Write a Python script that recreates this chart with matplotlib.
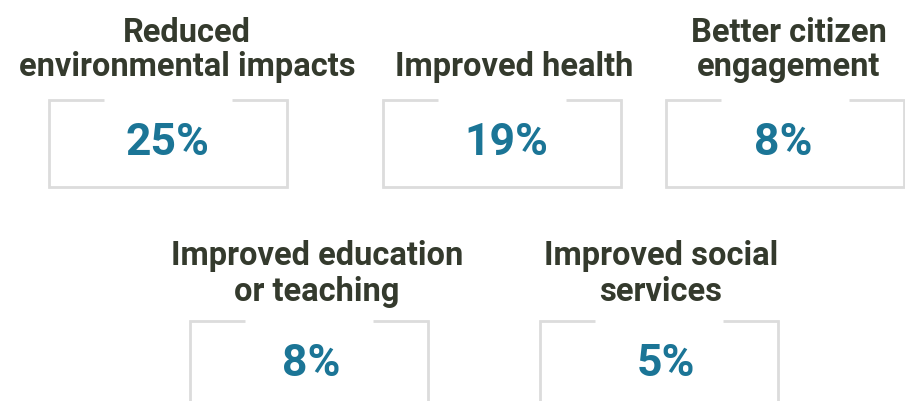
import matplotlib
matplotlib.use("Agg")
import matplotlib.pyplot as plt

categories = ["Reduced\nenvironmental impacts", "Improved health",
              "Better citizen\nengagement", "Improved education\nor teaching",
              "Improved social\nservices"]
values = [25, 19, 8, 8, 5]
value_labels = [f"{v}%" for v in values]

# layout (pixel coordinates)
box_left = [49, 383, 666, 190, 540]
box_top = [100, 100, 100, 321, 321]
box_w = 238
box_h = 87
title_cx = [187, 514, 789, 317, 661]
value_cx = [167, 506, 783, 311, 666]
title_last_base = [76, 76, 76, 301, 301]
title_spacing = [34, 34, 34, 36, 36]

W, H = 905, 401
fig = plt.figure(figsize=(W / 100, H / 100), dpi=100)
ax = fig.add_axes([0, 0, 1, 1])
ax.set_xlim(0, W)
ax.set_ylim(H, 0)
ax.axis("off")

border = "#dcdcdc"
title_col = "#343a2d"
val_col = "#1b7596"
lw = 2.0

for cat, lab, x0, y0, tx, vx, tb, sp in zip(categories, value_labels, box_left, box_top,
                                            title_cx, value_cx, title_last_base, title_spacing):
    x1 = x0 + box_w
    y1 = y0 + box_h
    cx = (x0 + x1) / 2
    gap = 64
    ax.plot([cx - gap, x0, x0, x1, x1, cx + gap],
            [y0, y0, y1, y1, y0, y0], color=border, lw=lw,
            solid_joinstyle="miter", solid_capstyle="butt", clip_on=False)
    lines = cat.split("\n")
    n = len(lines)
    for i, line in enumerate(lines):
        ax.text(tx, tb - (n - 1 - i) * sp, line, ha="center", va="baseline",
                fontsize=23.5, fontweight="bold", family="Roboto", color=title_col)
    ax.text(vx, y0 + 55, lab, ha="center", va="baseline", fontsize=32,
            fontweight="bold", family="Roboto", color=val_col)

fig.savefig("out.png", dpi=100, facecolor="white")
